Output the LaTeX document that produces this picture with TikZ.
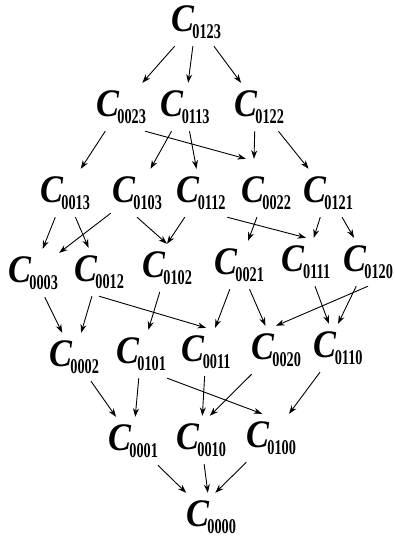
\documentclass[tikz,border=0pt]{standalone}
\usepackage{fontspec}
\setmainfont{Liberation Serif}
\usepackage{graphicx}
\usetikzlibrary{arrows.meta}

\newcommand{\cname}[1]{\scalebox{0.88}[1]{\fontsize{39}{39}\selectfont\bfseries\itshape C}\kern-1.5pt\raisebox{-7pt}{\scalebox{0.68}[1]{\fontsize{21}{21}\selectfont\bfseries #1}}}

\begin{document}
\begin{tikzpicture}[x=1pt, y=-1pt, >={Stealth[length=8.5pt,width=6pt]},
  cnode/.style={minimum width=52pt, minimum height=48pt, inner sep=0pt},
  link/.style={->, line width=0.9pt}]
  \useasboundingbox (0,0) rectangle (395,539);

  \node[cnode] (c0123) at (196,22) {\cname{0123}};

  \node[cnode] (c0023) at (121,107) {\cname{0023}};
  \node[cnode] (c0113) at (185,107) {\cname{0113}};
  \node[cnode] (c0122) at (259,107) {\cname{0122}};

  \node[cnode] (c0013) at (65,193) {\cname{0013}};
  \node[cnode] (c0103) at (137,193) {\cname{0103}};
  \node[cnode] (c0112) at (201,193) {\cname{0112}};
  \node[cnode] (c0022) at (266,193) {\cname{0022}};
  \node[cnode] (c0121) at (328,193) {\cname{0121}};

  \node[cnode] (c0003) at (33,273) {\cname{0003}};
  \node[cnode] (c0012) at (99,272) {\cname{0012}};
  \node[cnode] (c0102) at (167,268) {\cname{0102}};
  \node[cnode] (c0021) at (239,265) {\cname{0021}};
  \node[cnode] (c0111) at (306,262) {\cname{0111}};
  \node[cnode] (c0120) at (368,262) {\cname{0120}};

  \node[cnode] (c0002) at (74,357) {\cname{0002}};
  \node[cnode] (c0101) at (141,354) {\cname{0101}};
  \node[cnode] (c0011) at (206,352) {\cname{0011}};
  \node[cnode] (c0020) at (276,350) {\cname{0020}};
  \node[cnode] (c0110) at (338,348) {\cname{0110}};

  \node[cnode] (c0001) at (133,441) {\cname{0001}};
  \node[cnode] (c0010) at (201,440) {\cname{0010}};
  \node[cnode] (c0100) at (271,438) {\cname{0100}};

  \node[cnode] (c0000) at (211,517) {\cname{0000}};

  % top
  \draw[link] (c0123) -- (c0023);
  \draw[link] (c0123) -- (c0113);
  \draw[link] (c0123) -- (c0122);

  \draw[link] (c0023) -- (c0013);
  \draw[link] (c0023.-45) -- ([shift={(6pt,10pt)}]c0022.north west);
  \draw[link] (c0113) -- (c0103);
  \draw[link] (c0113) -- (c0112);
  \draw[link] (c0122.-100) -- ([shift={(-12pt,10pt)}]c0022.north);
  \draw[link] (c0122) -- (c0121);

  \draw[link] (c0013) -- (c0003);
  \draw[link] (c0013) -- (c0012);
  \draw[link] (c0103) -- (c0003);
  \draw[link] (c0103.south) -- (c0102.north);
  \draw[link] (c0112) -- (c0102.north);
  \draw[link] (c0112.south east) -- (c0111.north);
  \draw[link] (c0022) -- (c0021);
  \draw[link] (c0121) -- (c0111);
  \draw[link] (c0121) -- (c0120);

  \draw[link] (c0003) -- (c0002);
  \draw[link] (c0012) -- (c0002);
  \draw[link] (c0012.south) -- (c0011.north);
  \draw[link] (c0102) -- (c0101);
  \draw[link] (c0021) -- (c0011);
  \draw[link] (c0021) -- (c0020);
  \draw[link] (c0120.south) -- (c0020.north);
  \draw[link] (c0111) -- (c0110);
  \draw[link] (c0120) -- (c0110.north);

  \draw[link] (c0002) -- (c0001);
  \draw[link] (c0101) -- (c0001);
  \draw[link] (c0101.south east) -- (c0100.110);
  \draw[link] (c0011) -- (c0010);
  \draw[link] (c0020) -- (c0010.70);
  \draw[link] (c0110) -- (c0100);

  % bottom
  \draw[link] (c0001) -- (c0000);
  \draw[link] (c0010) -- (c0000);
  \draw[link] (c0100) -- (c0000.80);
\end{tikzpicture}
\end{document}
